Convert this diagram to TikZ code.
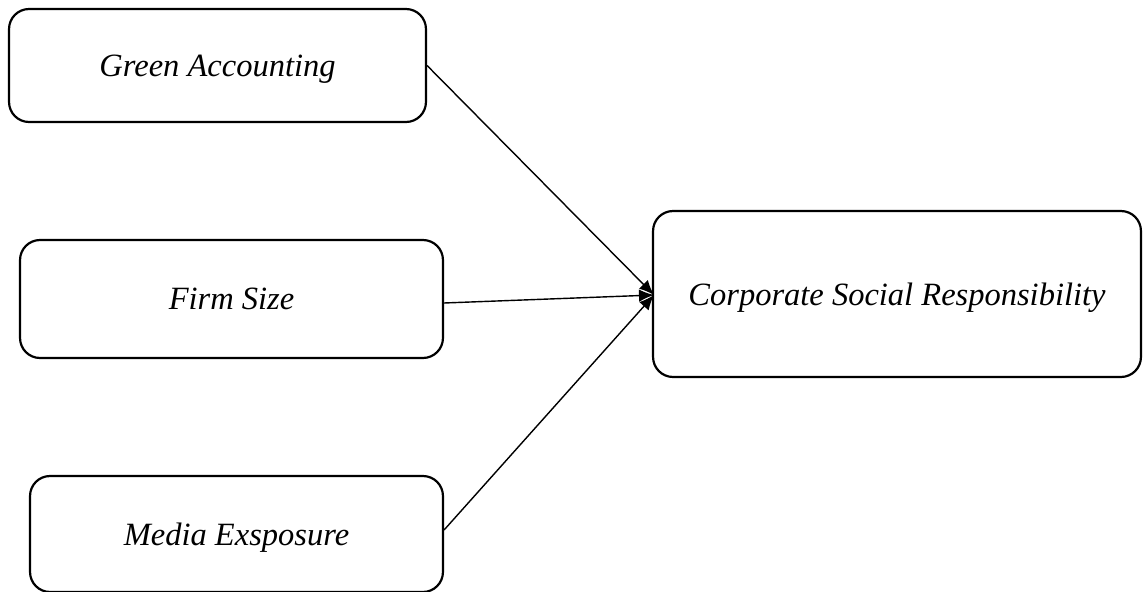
\documentclass[tikz,border=0pt]{standalone}
\usepackage{fontspec}
\setmainfont{Liberation Serif}
\usetikzlibrary{arrows.meta}
\begin{document}
\begin{tikzpicture}[x=0.02cm,y=-0.02cm,
  varbox/.style={draw,line width=1.25pt,rounded corners=0.4cm,inner sep=0pt,text depth=0pt,
    font=\itshape\fontsize{18.5}{22}\selectfont},
  link/.style={line width=0.8pt,-{Latex[length=0.3cm,width=0.25cm]}}]
\useasboundingbox (0,0) rectangle (1147,592);
%%independent variables
\node[varbox,minimum width=8.34cm,minimum height=2.26cm] (green) at (217.5,65.5) {Green Accounting};
\node[varbox,minimum width=8.46cm,minimum height=2.36cm] (size) at (231.5,299) {Firm Size};
\node[varbox,minimum width=8.26cm,minimum height=2.32cm] (media) at (236.5,534) {Media Exsposure};
%%dependent variable
\node[varbox,minimum width=9.76cm,minimum height=3.32cm] (csr) at (897,294) {Corporate Social Responsibility};
%%links
\coordinate (csrin) at (654,295);
\draw[link] (green.east) -- (csrin);
\draw[link] ([yshift=-0.08cm]size.east) -- (csrin);
\draw[link] ([yshift=0.08cm]media.east) -- (csrin);
\end{tikzpicture}
\end{document}
